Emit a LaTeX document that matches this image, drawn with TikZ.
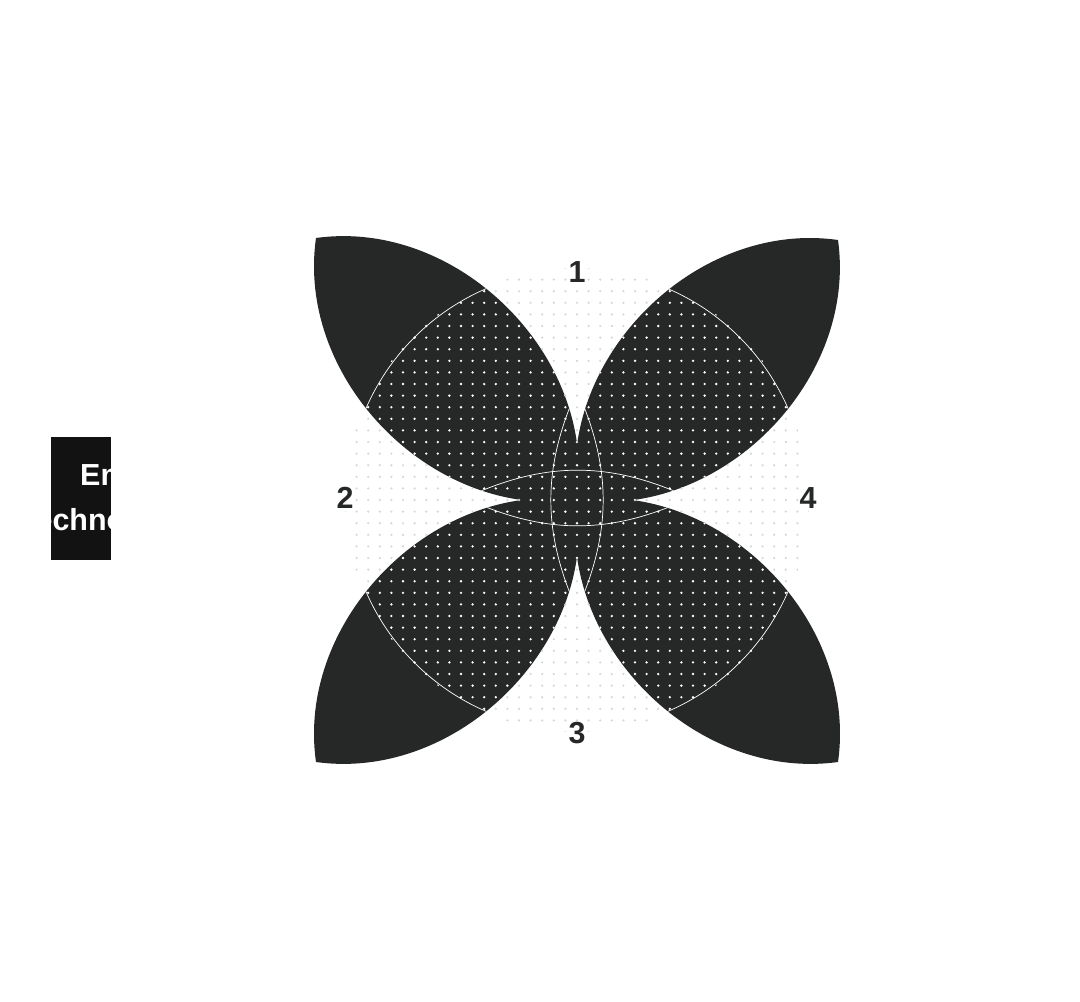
\documentclass[tikz,border=0pt]{standalone}
\usepackage{fontspec}
\setmainfont{Liberation Sans}
\begin{document}
\begin{tikzpicture}[x=0.03cm,y=-0.03cm,
  petalfill/.style={fill=petal},
  whiteline/.style={draw=white,line width=0.6pt},
  numlabel/.style={font=\bfseries\fontsize{26}{28}\selectfont,text=petal}]
\definecolor{petal}{HTML}{262727}
\definecolor{dotgray}{HTML}{D6D6D6}
\useasboundingbox (0,0) rectangle (1080,1002);
\fill[white] (0,0) rectangle (1080,1002);
\coordinate (C) at (577,500);
\coordinate (TL) at (316,238);
\coordinate (TR) at (838,240);
\coordinate (BL) at (316,762);
\coordinate (BR) at (838,762);
\def\petals{(TL) to[bend left=53] (C) to[bend left=53] (TL) -- cycle
 (TR) to[bend left=53] (C) to[bend left=53] (TR) -- cycle
 (BL) to[bend left=53] (C) to[bend left=53] (BL) -- cycle
 (BR) to[bend left=53] (C) to[bend left=53] (BR) -- cycle}
% gray dots in white area
\begin{scope}
\clip (C) circle (232);
\foreach \i in {-20,...,20}{\foreach \j in {-20,...,20}{
  \fill[dotgray] ({577+\i*11.6},{500+\j*11.6}) circle (1.2);}}
\end{scope}
% petals
\fill[petal] (TL) to[bend left=53] (C) to[bend left=53] (TL) -- cycle;
\fill[petal] (TR) to[bend left=53] (C) to[bend left=53] (TR) -- cycle;
\fill[petal] (BL) to[bend left=53] (C) to[bend left=53] (BL) -- cycle;
\fill[petal] (BR) to[bend left=53] (C) to[bend left=53] (BR) -- cycle;
\begin{scope}
\clip \petals;
\clip (C) circle (232);
\foreach \i in {-20,...,20}{\foreach \j in {-20,...,20}{
  \fill[white] ({577+\i*11.6},{500+\j*11.6}) circle (1.3);}}
\end{scope}
\begin{scope}
\clip \petals;
\draw[whiteline] (C) circle (230);
\coordinate (VT) at (577,390); \coordinate (VB) at (577,610);
\coordinate (HL) at (465,498); \coordinate (HR) at (690,498);
\draw[whiteline] (VT) to[bend left=24] (VB) to[bend left=24] (VT);
\draw[whiteline] (HL) to[bend left=25] (HR) to[bend left=25] (HL);
\end{scope}
\node[numlabel] (n1) at (577,272) {1};
\node[numlabel] (n2) at (345,498) {2};
\node[numlabel] (n3) at (577,733) {3};
\node[numlabel] (n4) at (808,498) {4};
% cut-off box
\fill[black!93] (51,437) rectangle (111,560);
\begin{scope}
\clip (51,437) rectangle (111,560);
\node[anchor=base west,text=white,font=\bfseries\fontsize{26}{28}\selectfont,inner sep=0] (t1) at (80,485) {Emerging};
\node[anchor=base west,text=white,font=\bfseries\fontsize{26}{28}\selectfont,inner sep=0] (t2) at (19,530) {Technology};
\end{scope}
\end{tikzpicture}
\end{document}
